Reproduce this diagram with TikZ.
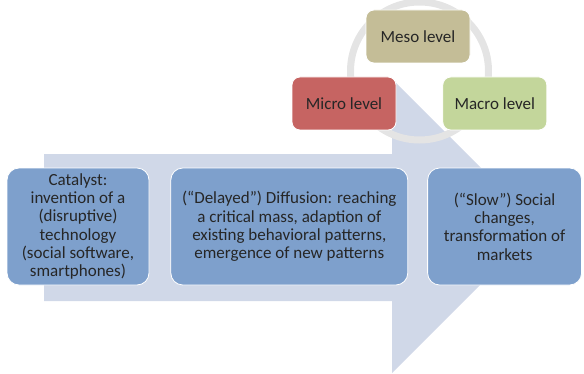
\documentclass[tikz,border=0pt]{standalone}
\usepackage{fontspec}
\setmainfont{Carlito}
\usetikzlibrary{positioning}

\definecolor{arrowfill}{RGB}{208,216,232}
\definecolor{phasefill}{RGB}{126,160,204}
\definecolor{ringgray}{RGB}{228,228,228}
\definecolor{mesofill}{RGB}{196,189,151}
\definecolor{microfill}{RGB}{198,100,98}
\definecolor{macrofill}{RGB}{195,214,155}

\begin{document}
\begin{tikzpicture}[
  x=1pt, y=1pt,
  node distance=20pt and 20pt,
  every node/.style={rectangle, draw=white, thick, rounded corners=12pt,
                     align=center, inner sep=0pt, text=black!85,
                     font=\fontsize{17}{18.3}\selectfont},
  phase/.style={fill=phasefill, minimum height=117pt},
  level/.style={rounded corners=8pt, minimum width=104pt, minimum height=53pt}
]
  \useasboundingbox (0,0) rectangle (584,373);

  % big arrow in the background
  \fill[arrowfill] (44,72) -- (44,219) -- (392,219) -- (392,294) -- (539,147)
    -- (392,0) -- (392,72) -- cycle;

  % ring behind the levels
  \coordinate (hub) at (419.5,302);
  \draw[ringgray, line width=7pt] (hub) circle[radius=69];

  \node (cat) [phase, minimum width=142pt] at (78,146.5)
    {Catalyst:\\invention of a\\(disruptive)\\technology\\(social software,\\smartphones)};
  \node (dif) [phase, minimum width=237pt, right=21pt of cat]
    {(“Delayed”) Diffusion: reaching\\a critical mass, adaption of\\existing behavioral patterns,\\emergence of new patterns};
  \node (soc) [phase, minimum width=154pt, right=19pt of dif]
    {(“Slow”) Social\\changes,\\transformation of\\markets};

  \node (micro) [level, fill=microfill] at (344,269.5) {Micro level};
  \node (meso) [level, fill=mesofill] at (418,336.5) {Meso level};
  \node (macro) [level, fill=macrofill, right=46pt of micro] {Macro level};
\end{tikzpicture}
\end{document}
